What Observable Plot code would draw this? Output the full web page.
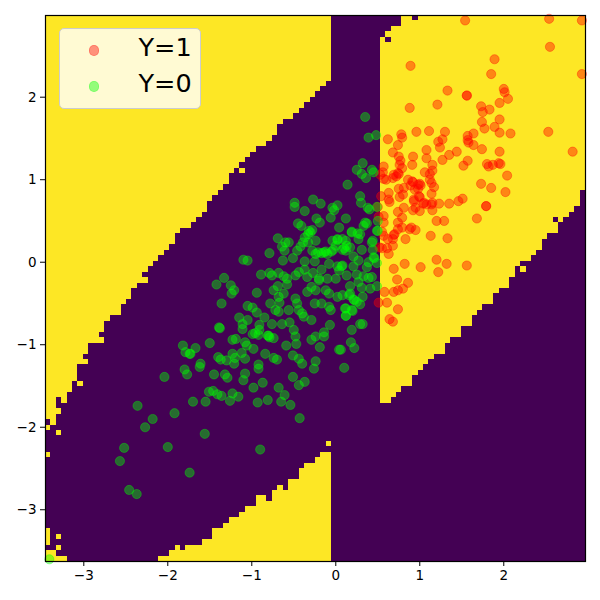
<!DOCTYPE html>
<html><head><meta charset="utf-8">
<script src="https://cdn.jsdelivr.net/npm/d3@7"></script>
<script src="https://cdn.jsdelivr.net/npm/@observablehq/plot@0.6"></script>
<style>
html,body{margin:0;padding:0;background:#fff}
#wrap{position:relative;width:600px;height:600px;font-family:"DejaVu Sans",sans-serif}
#legend{position:absolute;left:58.5px;top:28px;width:142px;height:80.5px;box-sizing:border-box;background:rgba(255,255,255,.8);border:1.4px solid #ccc;border-radius:5px}
.sw{position:absolute;left:29px;width:10.5px;height:10.5px;border-radius:50%;box-sizing:border-box}
.lb{position:absolute;left:79px;font-size:25.5px;line-height:30px;color:#000}
</style></head><body>
<div id="wrap"><div id="chart"></div>
<div id="legend">
<div class="sw" style="top:16px;background:rgba(255,0,0,.42);border:1px solid rgba(255,0,0,.2)"></div><div class="lb" style="top:3px">Y=1</div>
<div class="sw" style="top:52px;background:rgba(0,255,0,.42);border:1px solid rgba(0,255,0,.2)"></div><div class="lb" style="top:39px">Y=0</div>
</div></div>
<script>
const xDomain=[-3.456,2.973];
const yDomain=[-3.627,2.99];
const xTicks=[-3,-2,-1,0,1,2];
const yTicks=[-3,-2,-1,0,1,2];
const nGrid=100;
// decision grid: yellow rows counted from the top in each column
const upperDepth=[74,75,70,71,69,67,64,62,60,60,58,56,55,55,53,52,50,49,47,46,45,44,43,42,40,39,39,38,37,36,34,33,32,31,29,28,27,26,25,24,24,23,22,20,19,19,18,17,16,15,14,13,12];
const lowerFirstCol=21;
const lowerHeight=[1,1,2,3,2,3,3,3,4,4,6,6,7,8,8,9,10,10,12,12,11,13,14,13,15,15,17,18,18,19,20,20];
const rightFirstCol=62;
const rightTop=[4,3,2,2,0,0,0,0,0,0,0,0,0,0,0,0,0,0,0,0,0,0,0,0,0,0,0,0,0,0,0,0,0,0,0,0,0,0];
const rightBottom=[71,71,70,69,68,68,66,65,64,63,62,62,60,59,59,57,57,55,54,53,53,51,50,50,48,46,45,45,44,43,41,40,40,38,37,36,35,32];
const strayYellow=[[0,75],[0,80],[2,72],[2,76],[6,67],[7,63],[10,59],[18,48],[36,28],[52,78],[88,46],[0,94],[0,95],[0,96],[2,95],[2,97],[0,98],[1,98],[0,99],[1,99],[2,99],[3,99]];
const strayPurple=[[63,4],[68,0],[94,37]];
const pointsY1=[[1.54,2.93],[2.54,2.95],[2.93,2.93],[2.55,2.61],[1.89,2.46],[1.85,2.28],[2.93,2.28],[.89,2.38],[1.33,2.08],[1.56,2.02],[1.56,2.02],[1.21,1.91],[.88,1.87],[2.0,2.10],[2.01,2.06],[2.05,1.98],[1.95,1.93],[1.73,1.89],[1.75,1.82],[1.83,1.85],[1.74,1.70],[1.95,1.73],[1.77,1.62],[1.89,1.64],[1.95,1.57],[2.08,1.56],[2.53,1.58],[.96,1.58],[1.11,1.59],[1.30,1.58],[1.64,1.56],[1.57,1.53],[1.57,1.48],[1.58,1.45],[1.27,1.49],[1.22,1.46],[1.24,1.39],[1.64,1.42],[1.74,1.37],[1.08,1.36],[1.44,1.34],[1.35,1.30],[1.27,1.24],[1.08,1.26],[.92,1.28],[.91,1.18],[1.57,1.23],[1.52,1.17],[1.95,1.34],[2.82,1.34],[1.80,1.19],[1.82,1.16],[1.87,1.18],[1.94,1.20],[1.96,1.19],[2.04,1.05],[1.15,1.18],[1.15,1.11],[1.06,1.09],[1.12,1.07],[1.73,.95],[1.85,.90],[2.02,.85],[1.0,.95],[.98,.89],[1.12,1.0],[1.14,.96],[1.17,.91],[1.14,.83],[1.0,.79],[.93,.74],[1.05,.72],[1.14,.70],[1.23,.71],[1.35,.71],[1.46,.74],[1.51,.77],[1.79,.68],[.91,.98],[.89,.93],[.62,1.49],[.78,1.55],[.79,1.51],[.74,1.42],[.68,1.33],[.75,1.28],[.77,1.23],[.76,1.18],[.79,1.14],[.57,1.16],[.56,1.09],[.53,1.06],[.75,1.07],[.69,1.06],[.57,1.01],[.60,1.0],[.68,1.02],[.86,1.0],[.92,.97],[.98,.94],[.94,.88],[1.01,.93],[.74,1.08],[.72,1.04],[.63,.84],[.75,.89],[.81,.90],[.54,.80],[.63,.76],[.64,.73],[.76,.79],[.80,.82],[.93,.76],[.99,.80],[1.04,.71],[.95,.66],[1.0,.62],[.92,.63],[.81,.66],[.74,.61],[1.08,.70],[1.15,.63],[1.15,.72],[.79,.54],[.74,.48],[.57,.56],[.57,.48],[.74,.40],[.69,.33],[.79,.42],[.88,.40],[.90,.42],[.95,.39],[.83,.28],[1.13,.32],[1.33,.29],[1.20,.50],[1.29,.50],[.55,.37],[.57,.32],[.62,.28],[.68,.28],[.70,.34],[.55,.17],[.61,.17],[.68,.20],[.63,.10],[1.79,.68],[1.68,.53],[1.20,.03],[1.32,-.02],[.82,-.02],[1.01,-.06],[1.56,-.04],[1.22,-.12],[.69,-.08],[.73,-.21],[.86,-.25],[.80,-.32],[.74,-.34],[.69,-.36],[.58,-.36],[.61,-.49],[.51,-.49],[.74,-.57],[.64,-.69],[.68,-.72],[.51,.55],[.50,.67],[.52,.18]];
const pointsY0=[[.35,1.76],[.39,1.51],[.48,1.54],[.32,1.20],[.25,1.12],[.31,1.07],[.36,1.02],[.43,1.12],[.45,1.09],[.14,.94],[.29,.80],[.30,.72],[.38,.66],[.40,.64],[.02,.69],[-.04,.66],[-.02,.63],[-.06,.54],[.12,.53],[-.49,.72],[-.49,.67],[-.27,.76],[-.18,.71],[-.37,.62],[-.23,.53],[-.19,.48],[-.45,.47],[-.41,.44],[.04,.42],[.19,.37],[.35,.48],[.37,.47],[.33,.44],[.26,.35],[.29,.34],[.27,.28],[.49,.38],[-.69,.29],[-.60,.24],[-.56,.24],[-.64,.19],[-.61,.14],[-.79,.11],[-.51,.05],[-.63,.02],[-1.10,.03],[-1.05,.02],[-.46,.14],[-.42,.19],[-.37,.30],[-.32,.38],[-.28,.39],[-.24,.26],[-.33,.24],[-.28,.14],[-.21,.12],[-.14,.12],[-.10,.10],[-.04,.26],[.02,.28],[.08,.28],[.13,.20],[.17,.18],[.12,.14],[0,.20],[.31,.15],[.44,.26],[.43,.24],[.44,.15],[.46,.05],[.49,-.01],[.39,0],[.27,.02],[.21,.07],[.21,-.05],[-.08,-.02],[-.25,.01],[-.37,.01],[.07,-.05],[.02,-.05],[-.17,-.09],[-.27,-.13],[-.37,-.09],[-.44,-.12],[-.48,-.16],[-.68,-.13],[-.79,-.13],[-.76,-.16],[-.89,-.15],[-.62,-.17],[-.34,-.18],[.04,-.10],[.37,-.06],[.25,-.15],[.33,-.17],[.43,-.18],[.13,-.16],[0,-.20],[-.10,-.20],[-.20,-.20],[-.58,-.20],[-1.33,-.19],[-1.42,-.27],[-1.25,-.28],[-1.21,-.34],[-1.24,-.38],[-.94,-.37],[-1.36,-.50],[-1.05,-.53],[-.99,-.55],[-.94,-.61],[-1.15,-.67],[-1.05,-.70],[-1.11,-.75],[-1.11,-.81],[-.85,-.67],[-.76,-.75],[-.64,-.75],[-.55,-.73],[-.91,-.76],[-.91,-.82],[-1.39,-.79],[-1.38,-.80],[-.99,-.87],[-.96,-.86],[-.92,-.88],[-.81,-.89],[-.79,-.91],[-.74,-.92],[-.80,-.89],[-.50,-.82],[-.48,-.90],[-.47,-.99],[-.59,-1.01],[-.29,-.94],[-.24,-.90],[-.14,-.85],[-.14,-.90],[-.07,-.76],[-.19,-1.03],[.04,-1.06],[.19,-.82],[.18,-.97],[.22,-1.04],[-1.50,-.98],[-1.23,-.94],[-1.19,-.93],[-1.08,-.97],[-1.06,-1.01],[-.98,-1.05],[-1.67,-1.04],[-1.73,-1.11],[-1.23,-1.11],[-1.12,-1.10],[-1.40,-1.15],[-1.37,-1.18],[-1.30,-1.19],[-1.20,-1.16],[-1.21,-1.23],[-1.08,-1.17],[-.84,-1.11],[-.74,-1.16],[-.70,-1.18],[-.51,-1.13],[-.44,-1.17],[-.40,-1.23],[-.24,-1.20],[-.26,-1.29],[.10,-1.28],[-1.61,-1.23],[-1.62,-1.27],[-1.45,-1.36],[-1.32,-1.36],[-1.29,-1.40],[-1.08,-1.35],[-1.10,-1.43],[-.92,-1.24],[-.92,-1.29],[-.51,-1.39],[-.37,-1.45],[-.44,-1.49],[-.87,-1.46],[-.98,-1.52],[-.68,-1.52],[-.61,-1.61],[-.65,-1.69],[-.81,-1.67],[-.54,-1.73],[-.93,-1.70],[-1.23,-1.59],[-1.16,-1.63],[-1.26,-1.68],[-1.36,-1.62],[-1.46,-1.56],[-1.51,-1.57],[-1.41,-1.60],[-1.55,-1.69],[-1.70,-1.69],[-.43,-1.89],[-.78,-.50],[-.67,-.49],[-.72,-.58],[-.68,-.60],[-.74,-.34],[-.69,-.29],[-.58,-.27],[-.62,-.38],[-.68,-.42],[-.56,-.58],[-.48,-.44],[-.46,-.50],[-.44,-.58],[-.40,-.62],[-.38,-.66],[-.29,-.70],[-.34,-.36],[-.29,-.30],[-.24,-.34],[-.20,-.22],[-.12,-.34],[-.08,-.38],[.02,-.42],[.08,-.40],[.17,-.38],[.21,-.45],[.25,-.48],[-.25,-.50],[-.17,-.50],[-.08,-.54],[-.06,-.58],[.12,-.56],[.19,-.58],[.12,-.65],[.29,-.75],[.49,.67],[.50,.50],[.50,.38],[.19,.36],[.12,.26],[.41,-.32],[.49,-.29],[.27,-.24],[.39,-.19],[.31,-.31],[.17,-.29],[.16,-.40],[.22,-.46],[.29,-.51],[.32,-.42],[.11,-.56],[.20,-.59],[.12,-.65],[.32,-.75],[.06,-1.06],[.45,.06],[.08,-.04],[-1.82,-1.01],[-1.79,-1.09],[-1.74,-1.11],[-2.04,-1.39],[-1.80,-1.30],[-1.77,-1.36],[-2.36,-1.74],[-2.18,-1.90],[-2.27,-2.00],[-1.92,-1.83],[-1.56,-2.08],[-2.52,-2.25],[-2.00,-2.24],[-2.57,-2.41],[-1.74,-2.55],[-2.46,-2.76],[-2.37,-2.81],[-3.41,-3.60],[-.90,-2.27],[-.05,.13],[-.03,.15],[-.12,.13],[-.30,.36],[-.33,.34],[.10,.17],[.08,.15],[-.24,.10],[-.17,.11],[.02,.27],[-.39,.24]];
const dx=(xDomain[1]-xDomain[0])/nGrid, dy=(yDomain[1]-yDomain[0])/nGrid;
const held=new Set(strayPurple.map(String));
const spans=[];
const addCells=(i,k0,k1)=>{for(let k=k0;k<k1;k++) if(!held.has(i+","+k)) spans.push({i,k});};
upperDepth.forEach((d,n)=>addCells(n,0,d));
lowerHeight.forEach((h,n)=>addCells(lowerFirstCol+n,nGrid-h,nGrid));
rightTop.forEach((t,n)=>addCells(rightFirstCol+n,t,rightBottom[n]));
strayYellow.forEach(([i,k])=>addCells(i,k,k+1));
const toPts=a=>a.map(([x,y])=>({x,y}));
const chart=Plot.plot({
  width:600,height:600,marginLeft:45,marginRight:15,marginTop:15,marginBottom:39,
  style:{background:"#fff",fontFamily:"DejaVu Sans",color:"#000",overflow:"visible"},
  x:{domain:xDomain,ticks:xTicks},
  y:{domain:yDomain,ticks:yTicks},
  marks:[
    Plot.frame({fill:"#440154",stroke:null}),
    Plot.rect(spans,{
      x1:d=>xDomain[0]+d.i*dx,x2:d=>xDomain[0]+(d.i+1)*dx,
      y1:d=>yDomain[1]-(d.k+1)*dy,y2:d=>yDomain[1]-d.k*dy,
      fill:"#fde725",shapeRendering:"crispEdges"}),
    Plot.dot(toPts(pointsY1),{x:"x",y:"y",r:4.6,fill:"#ff0000",fillOpacity:.42,stroke:"#ff0000",strokeOpacity:.35,strokeWidth:1}),
    Plot.dot(toPts(pointsY0),{x:"x",y:"y",r:4.6,fill:"#00ff00",fillOpacity:.42,stroke:"#00ff00",strokeOpacity:.35,strokeWidth:1}),
    Plot.frame({stroke:"#000",strokeWidth:1.2}),
    Plot.axisX({ticks:xTicks,tickSize:5,tickPadding:4,fontSize:13.5,label:null,stroke:"#000",tickFormat:d=>String(d).replace("-","\u2212")}),
    Plot.axisY({ticks:yTicks,tickSize:5,tickPadding:4,fontSize:13.5,label:null,stroke:"#000",tickFormat:d=>String(d).replace("-","\u2212")})
  ]
});
document.getElementById("chart").append(chart);
</script>
</body></html>
